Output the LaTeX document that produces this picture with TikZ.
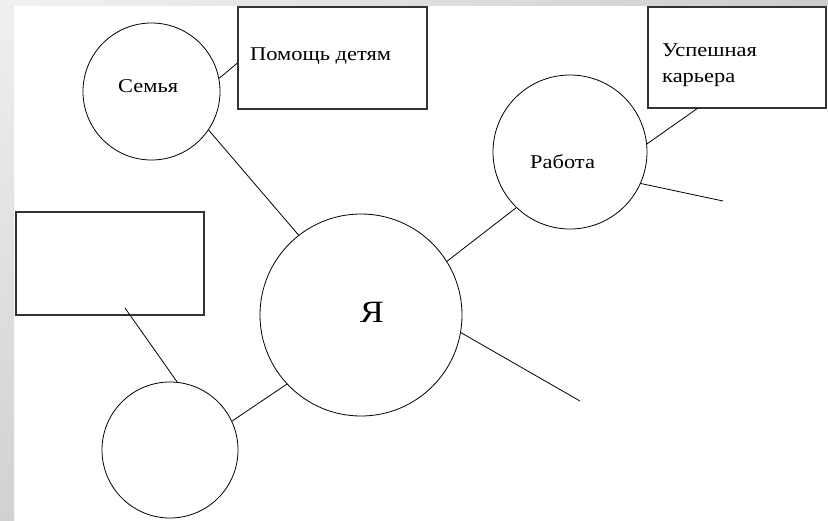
\documentclass[tikz,border=0pt]{standalone}
\usepackage{fontspec}
\setmainfont{Liberation Serif}[FakeStretch=1.15]
\begin{document}
\begin{tikzpicture}[x=1pt,y=-1pt,
  ring/.style={draw=black,line width=0.8pt,circle,inner sep=0pt},
  boxnode/.style={draw=black!80,line width=1.1pt,rectangle,inner sep=0pt},
  link/.style={draw=black,line width=0.8pt},
  txt/.style={anchor=base west,inner sep=0pt,font=\fontsize{19.5}{26}\selectfont},
  bigtxt/.style={anchor=base west,inner sep=0pt,font=\fontsize{31}{36}\selectfont}]
\useasboundingbox (0,0) rectangle (828,520);
\fill[white] (0,0) rectangle (828,520);
\shade[left color=black!5,right color=black!20] (0,0) rectangle (828,5);
\shade[top color=black!6,bottom color=black!18] (0,0) rectangle (14,520);
% nodes
\node[ring,minimum size=137pt] (semya) at (151.5,91.5) {};
\node[ring,minimum size=202pt] (ya) at (361,315) {};
\node[ring,minimum size=154pt] (rab) at (570,152) {};
\node[ring,minimum size=136pt] (low) at (170,450) {};
\node[boxnode,minimum width=189pt,minimum height=102pt] (pom) at (332.5,58) {};
\node[boxnode,minimum width=178pt,minimum height=101pt] (usp) at (737,57.5) {};
\node[boxnode,minimum width=188pt,minimum height=103pt] (empt) at (110,263.5) {};
% texts
\node[txt] (tsemya) at (118,92) {Семья};
\node[txt] (tpom) at (250,60) {Помощь детям};
\node[txt] (tusp1) at (662,56) {Успешная};
\node[txt] (tusp2) at (662,82) {карьера};
\node[txt] (trab) at (530,168) {Работа};
\node[bigtxt] (tya) at (360,322) {Я};
% free ends
\coordinate (f1) at (723,201);
\coordinate (f2) at (580,401);
\coordinate (f3) at (125,308);
\coordinate (f4) at (698,108);
% connectors
\draw[link] (semya.11) -- ([yshift=-5pt]pom.west);
\draw[link] (semya.-34) -- (ya.128);
\draw[link] (rab.226) -- (ya.32);
\draw[link] (f4) -- (rab.6);
\draw[link] (rab.-24) -- (f1);
\draw[link] (ya.-10.5) -- (f2);
\draw[link] (ya.223) -- (low.25.5);
\draw[link] (f3) -- (low.84);
\end{tikzpicture}
\end{document}
